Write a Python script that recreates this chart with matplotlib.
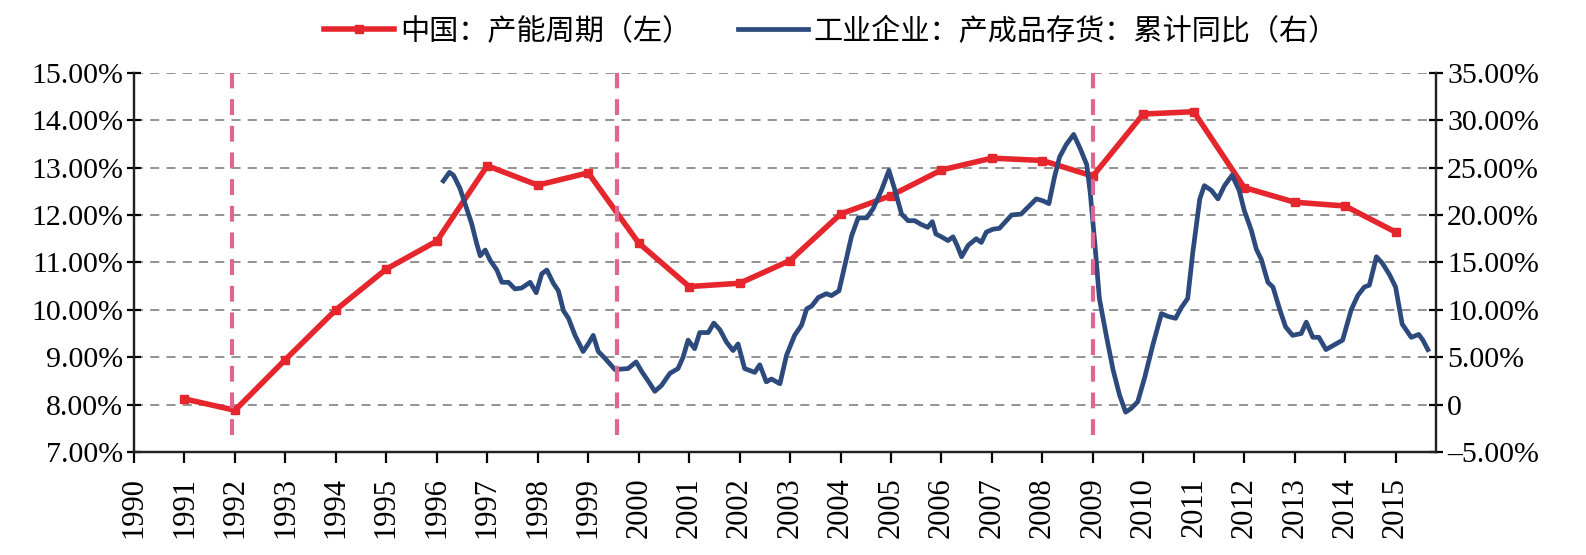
import matplotlib
matplotlib.use("Agg")
import matplotlib.pyplot as plt
import matplotlib.transforms as mtransforms
from matplotlib.ticker import FuncFormatter

# 中国产能周期, annual, left axis (%)
cap_years = list(range(1991, 2016))
cap_cycle = [8.12, 7.88, 8.95, 10.00, 10.86, 11.45, 13.04, 12.63, 12.89, 11.41,
             10.49, 10.56, 11.04, 12.02, 12.41, 12.95, 13.20, 13.15, 12.82, 14.13,
             14.18, 12.58, 12.27, 12.19, 11.64]

# 工业企业产成品存货累计同比, right axis (%)
inv_t = [1996.13, 1996.25, 1996.33, 1996.46, 1996.56, 1996.69, 1996.79, 1996.86, 1996.96,
         1997.06, 1997.19, 1997.29, 1997.42, 1997.55, 1997.68, 1997.85, 1997.97,
         1998.08, 1998.18, 1998.31, 1998.41, 1998.51, 1998.61, 1998.74, 1998.90,
         1999.00, 1999.10, 1999.20, 1999.33, 1999.53, 1999.79, 1999.95,
         2000.06, 2000.20, 2000.32, 2000.45, 2000.62, 2000.78, 2000.88, 2000.98,
         2001.11, 2001.21, 2001.38, 2001.49, 2001.61, 2001.74, 2001.87, 2001.97,
         2002.10, 2002.30, 2002.40, 2002.53, 2002.63, 2002.80, 2002.93,
         2003.09, 2003.23, 2003.33, 2003.43, 2003.56, 2003.72, 2003.82, 2003.97,
         2004.10, 2004.22, 2004.35, 2004.52, 2004.65, 2004.81, 2004.96,
         2005.08, 2005.21, 2005.34, 2005.47, 2005.60, 2005.73, 2005.82, 2005.89,
         2006.00, 2006.13, 2006.23, 2006.31, 2006.40, 2006.53, 2006.69, 2006.79, 2006.89,
         2007.02, 2007.15, 2007.39, 2007.58, 2007.75, 2007.88,
         2008.01, 2008.13, 2008.24, 2008.34, 2008.47, 2008.62, 2008.75, 2008.88, 2008.95,
         2009.04, 2009.13, 2009.27, 2009.40, 2009.53, 2009.65, 2009.76, 2009.89,
         2010.03, 2010.19, 2010.36, 2010.49, 2010.64, 2010.75, 2010.88, 2010.98,
         2011.12, 2011.21, 2011.35, 2011.48, 2011.61, 2011.76, 2011.90,
         2012.00, 2012.14, 2012.24, 2012.34, 2012.47, 2012.57, 2012.70, 2012.82, 2012.96,
         2013.13, 2013.23, 2013.36, 2013.48, 2013.62, 2013.95,
         2014.12, 2014.25, 2014.38, 2014.48, 2014.62, 2014.74, 2014.88,
         2015.00, 2015.13, 2015.31, 2015.46, 2015.54, 2015.64]
inv_yoy = [23.6, 24.5, 24.2, 22.8, 21.2, 19.1, 17.0, 15.7, 16.3,
           15.2, 14.2, 12.9, 12.9, 12.2, 12.3, 12.9, 11.8,
           13.8, 14.2, 12.8, 12.0, 9.9, 9.1, 7.3, 5.6,
           6.4, 7.3, 5.6, 4.9, 3.7, 3.8, 4.5,
           3.5, 2.4, 1.4, 2.0, 3.3, 3.8, 5.0, 6.8,
           5.9, 7.6, 7.6, 8.6, 7.9, 6.6, 5.7, 6.4,
           3.8, 3.4, 4.2, 2.4, 2.7, 2.2, 5.2,
           7.3, 8.4, 10.1, 10.4, 11.3, 11.7, 11.5, 12.0,
           15.0, 17.8, 19.7, 19.7, 20.7, 22.6, 24.7,
           22.6, 20.1, 19.4, 19.4, 19.0, 18.7, 19.3, 18.0,
           17.7, 17.3, 17.7, 16.8, 15.6, 16.8, 17.5, 17.1, 18.2,
           18.5, 18.6, 20.0, 20.1, 21.0, 21.7,
           21.5, 21.2, 24.0, 26.1, 27.4, 28.5, 27.0, 25.3, 22.3,
           17.0, 11.2, 7.2, 3.7, 1.0, -0.8, -0.4, 0.3,
           2.9, 6.3, 9.6, 9.3, 9.1, 10.2, 11.2, 16.0,
           21.7, 23.1, 22.6, 21.7, 23.1, 24.2, 22.6,
           20.5, 18.4, 16.4, 15.3, 12.9, 12.4, 10.1, 8.2, 7.3,
           7.5, 8.7, 7.1, 7.1, 5.8, 6.8,
           10.0, 11.5, 12.4, 12.6, 15.6, 14.9, 13.7,
           12.4, 8.5, 7.1, 7.4, 6.8, 5.8]

cycle_marks = [1991.95, 1999.58, 2009.0]
year_ticks = list(range(1990, 2016))
left_ticks = list(range(7, 16))
right_ticks = list(range(-5, 36, 5))

RED = "#e5262d"
BLUE = "#2c4a7c"
PINK = "#de6690"
GRID = "#8a8a8a"
serif = "Liberation Serif"
cjk = ["Noto Sans CJK SC", "DejaVu Sans"]

fig = plt.figure(figsize=(15.86, 5.55), dpi=100)
ax = fig.add_axes([0.0845, 0.1856, 0.8209, 0.6832])
ax2 = ax.twinx()

ax.plot(cap_years, cap_cycle, color=RED, lw=4.0, marker="s", markersize=6,
        label="中国：产能周期（左）", zorder=3)
ax2.plot(inv_t, inv_yoy, color=BLUE, lw=3.4, label="工业企业：产成品存货：累计同比（右）",
         zorder=3)

for xm in cycle_marks:
    ax2.axvline(xm, ymin=0.045, ymax=1.0, color=PINK, lw=3.0, ls=(0, (3.8, 2.6)), zorder=5)

ax.set_xlim(1990, 2015.8)
ax.set_ylim(7, 15)
ax2.set_ylim(-5, 35)

ax.set_yticks(left_ticks)
ax.yaxis.set_major_formatter(FuncFormatter(lambda v, p: f"{v:.2f}%"))
ax2.set_yticks(right_ticks)
ax2.yaxis.set_major_formatter(
    FuncFormatter(lambda v, p: "0" if v == 0 else f"{v:.2f}%".replace("-", "–")))

ax.set_xticks(year_ticks)
ax.set_xticklabels([str(y) for y in year_ticks], rotation=90, fontfamily=serif, fontsize=22)
offset = mtransforms.ScaledTranslation(0.11, 0, fig.dpi_scale_trans)
for lab in ax.get_xticklabels():
    lab.set_transform(lab.get_transform() + offset)

for lab in ax.get_yticklabels() + ax2.get_yticklabels():
    lab.set_fontfamily(serif)
    lab.set_fontsize(21.5)

ax.yaxis.grid(True, ls=(0, (5, 4)), color=GRID, lw=1.3)
ax.set_axisbelow(True)

for a in (ax, ax2):
    a.spines["top"].set_visible(False)
    for s in ("left", "right", "bottom"):
        a.spines[s].set_linewidth(1.6)
        a.spines[s].set_color("#222222")
ax.tick_params(axis="y", direction="inout", length=10, width=1.6, pad=3)
ax2.tick_params(axis="y", direction="inout", length=10, width=1.6, pad=3)
ax.tick_params(axis="x", direction="out", length=8, width=1.6, pad=10)

h1, l1 = ax.get_legend_handles_labels()
h2, l2 = ax2.get_legend_handles_labels()
fig.legend(h1 + h2, l1 + l2, loc="center", bbox_to_anchor=(0.524, 0.943), ncol=2,
           frameon=False, prop={"family": cjk, "size": 21}, handlelength=2.4,
           columnspacing=1.6, handletextpad=0.2)

fig.savefig("out.png", dpi=100)
